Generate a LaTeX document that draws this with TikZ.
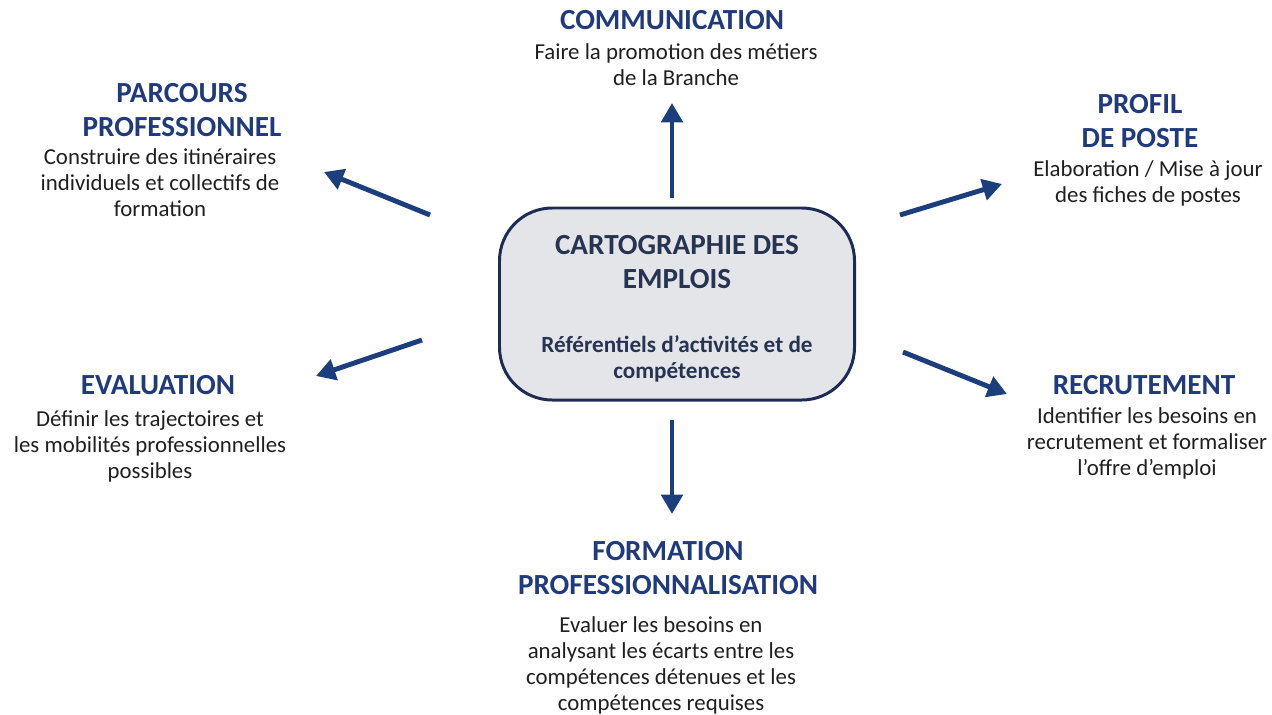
\documentclass[tikz,border=0pt]{standalone}
\usepackage{fontspec}
\setmainfont{Carlito}
\usetikzlibrary{arrows.meta}
\definecolor{titre}{RGB}{32,58,125}
\definecolor{fleche}{RGB}{28,62,125}
\definecolor{cadre}{RGB}{30,44,85}
\definecolor{fond}{RGB}{228,229,233}
\definecolor{texte}{RGB}{38,52,82}
\tikzset{
    TI/.style ={align=center, text=titre, font=\fontsize{16.6}{19.4}\selectfont\bfseries},
    DE/.style ={align=center, text=black!88, font=\fontsize{13}{14.8}\selectfont},
    BX/.style ={rectangle, rounded corners=30, draw=cadre, line width=1.7pt, fill=fond,
                minimum width=355*0.02cm, minimum height=192*0.02cm},
    FL/.style ={draw=fleche, line width=2.8pt, -{Triangle[length=11pt,width=12pt]}}}
\begin{document}
\begin{tikzpicture}[x=0.02cm,y=-0.02cm]
        \useasboundingbox (0,0) rectangle (1272,714);
        \node[BX] (carto) at (677,304) {};
        \node[TI,text=texte] (cartoT) at (677,262) {CARTOGRAPHIE DES\\EMPLOIS};
        \node[DE,text=texte,font=\fontsize{13.2}{14.8}\selectfont\bfseries] (cartoD) at (677,359)
            {Référentiels d’activités et de\\compétences};
        \node[TI] (comT) at (672,20) {COMMUNICATION};
        \node[DE] (comD) at (676,65) {Faire la promotion des métiers\\de la Branche};
        \node[TI] (parT) at (182,110) {PARCOURS\\PROFESSIONNEL};
        \node[DE] (parD) at (160,183) {Construire des itinéraires\\individuels et collectifs de\\formation};
        \node[TI] (proT) at (1140,121) {PROFIL\\DE POSTE};
        \node[DE] (proD) at (1148,183) {Elaboration / Mise à jour\\des fiches de postes};
        \node[TI] (evaT) at (158,385) {EVALUATION};
        \node[DE] (evaD) at (150,446) {Définir les trajectoires et\\les mobilités professionnelles\\possibles};
        \node[TI] (recT) at (1144,385) {RECRUTEMENT};
        \node[DE] (recD) at (1147,443) {Identifier les besoins en\\recrutement et formaliser\\l’offre d’emploi};
        \node[TI] (forT) at (668,568) {FORMATION\\PROFESSIONNALISATION};
        \node[DE] (forD) at (661,665) {Evaluer les besoins en\\analysant les écarts entre les\\compétences détenues et les\\compétences requises};
        \coordinate (haut0) at (672,198);   \coordinate (haut1) at (672,103);
        \coordinate (bas0) at (672,420);    \coordinate (bas1) at (672,514);
        \coordinate (hg0) at (430,215);     \coordinate (hg1) at (324,172);
        \coordinate (bg0) at (422,340);     \coordinate (bg1) at (316,376);
        \coordinate (hd0) at (900,215);     \coordinate (hd1) at (1002,184);
        \coordinate (bd0) at (903,352);     \coordinate (bd1) at (1007,394);
        \foreach \a in {haut,bas,hg,bg,hd,bd}
            \draw[FL] (\a0) -- (\a1);
    \end{tikzpicture}
\end{document}
